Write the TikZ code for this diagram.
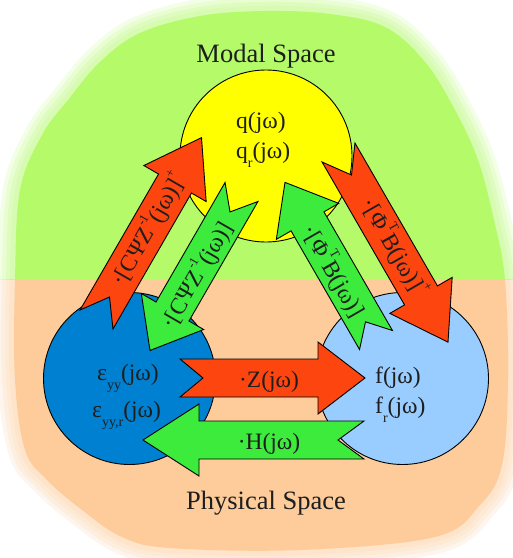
\documentclass[tikz,border=0pt]{standalone}
\usepackage{fontspec}
\setmainfont{Liberation Serif}
\definecolor{arrred}{RGB}{253,69,16}
\definecolor{arrgreen}{RGB}{61,235,61}
\definecolor{modalyellow}{RGB}{255,255,0}
\definecolor{strainblue}{RGB}{0,128,208}
\definecolor{forceblue}{RGB}{153,204,255}
\definecolor{bggreen}{RGB}{180,250,105}
\definecolor{bgorange}{RGB}{253,204,154}
\definecolor{inktext}{RGB}{30,30,30}
\newcommand{\lo}[1]{\raisebox{-0.42em}{\fontsize{14}{14}\selectfont #1}}
\newcommand{\hi}[1]{\raisebox{0.55em}{\fontsize{13}{13}\selectfont #1}}
% tail x, tail y, angle, length, head length, notch, colour
\newcommand{\blockarr}[7]{%
  \begin{scope}[shift={(#1,#2)},rotate=#3]
    \filldraw[fill=#7,draw=black,line width=0.9pt,line join=miter]
      (0,19) -- ({#4-#5},19) -- ({#4-#5},36) -- (#4,0) -- ({#4-#5},-36)
      -- ({#4-#5},-19) -- (0,-19) -- (#6,0) -- cycle;
  \end{scope}}
\tikzset{
  ring/.style={circle,draw=black,line width=0.9pt,minimum size=172pt,inner sep=0pt},
  lbl/.style={text=inktext,font=\fontsize{23.5}{25}\selectfont,inner sep=0pt},
  title/.style={text=inktext,font=\fontsize{26.5}{28}\selectfont,inner sep=0pt,anchor=base},
}
\begin{document}
\begin{tikzpicture}[x=1pt,y=-1pt]
\useasboundingbox (0,0) rectangle (513,558);
\fill[white] (0,0) rectangle (513,558);
\def\blob{plot[smooth cycle,tension=0.6] coordinates {
 (265,11) (330,14) (385,27) (425,62) (455,110) (478,160) (494,220) (505,280)
 (508,380) (502,465) (480,505) (435,537) (300,550) (170,548) (122,537)
 (82,510) (47,480) (25,450) (15,380) (15,280) (20,190) (42,135) (68,100)
 (100,62) (140,33) (200,16)}}
\begin{scope}
  \clip (0,0) rectangle (513,279);
  \foreach \w in {34,26,18,10} {\draw[bggreen,line width=\w pt,opacity=0.16] \blob;}
  \fill[bggreen] \blob;
\end{scope}
\begin{scope}
  \clip (0,279) rectangle (513,558);
  \foreach \w in {34,26,18,10} {\draw[bgorange,line width=\w pt,opacity=0.16] \blob;}
  \fill[bgorange] \blob;
\end{scope}
% circles
\node[ring,fill=modalyellow] (cq) at (266,156) {};
\node[ring,fill=strainblue] (ce) at (129.5,378.5) {};
\node[ring,fill=forceblue] (cf) at (402.5,378.5) {};
% arrows
\blockarr{96.5}{319.5}{60}{210}{53}{26}{arrred}
\blockarr{241.5}{192}{-120}{183}{45}{23}{arrgreen}
\blockarr{338.5}{152.5}{-60}{219}{54}{26}{arrred}
\blockarr{376}{340}{120}{182}{45}{21}{arrgreen}
\blockarr{180}{378}{0}{185}{47}{23}{arrred}
\blockarr{364}{440}{180}{221}{56}{26}{arrgreen}
% titles
\node[title] (modal) at (266,62) {Modal Space};
\node[title] (physical) at (266,509) {Physical Space};
% circle contents
\node[lbl,anchor=base west] (q1) at (236,128) {q(jω)};
\node[lbl,anchor=base west] (q2) at (236,158) {q\lo{r}(jω)};
\node[lbl,anchor=base west] (e1) at (97,380) {ε\lo{yy}(jω)};
\node[lbl,anchor=base west] (e2) at (92,417) {ε\lo{yy,r}(jω)};
\node[lbl,anchor=base west] (f1) at (375,383) {f(jω)};
\node[lbl,anchor=base west] (f2) at (375,413) {f\lo{r}(jω)};
% arrow labels
\node[lbl,anchor=base] (lz) at (269,387) {·Z(jω)};
\node[lbl,anchor=base] (lh) at (269,449) {·H(jω)};
\node[lbl,rotate=60] (lrl) at (148,229) {·[CΨZ\hi{-1}(jω)]\hi{+}};
\node[lbl,rotate=60] (lgl) at (196,275) {·[CΨZ\hi{-1}(jω)]};
\node[lbl,rotate=-60] (lgr) at (334,271) {·[Φ\hi{T}B(jω)]};
\node[lbl,rotate=-60] (lrr) at (395,247) {·[Φ\hi{T}B(jω)]\hi{+}};
\end{tikzpicture}
\end{document}
